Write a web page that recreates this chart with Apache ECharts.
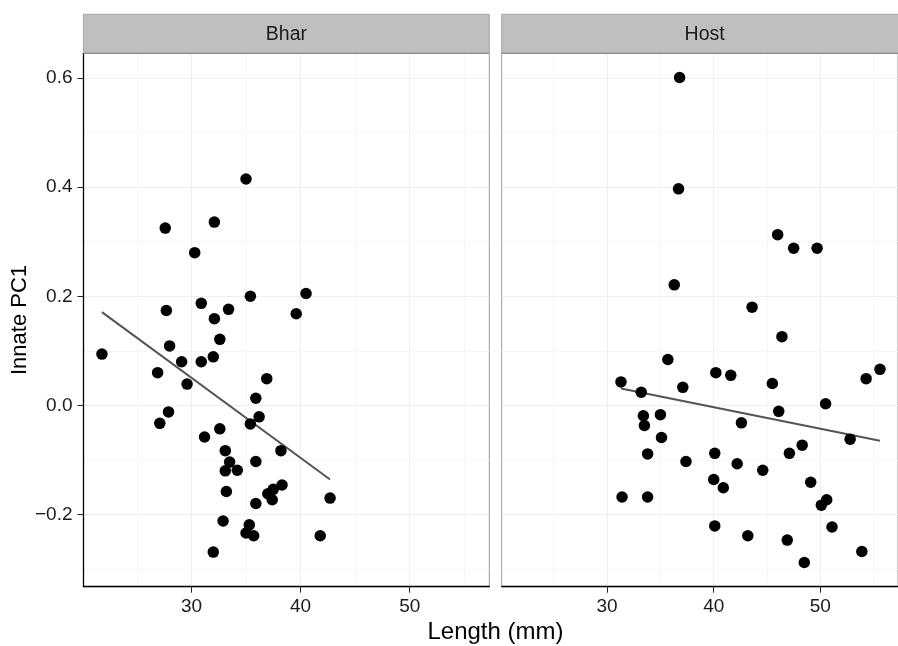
<!DOCTYPE html>
<html>
<head>
<meta charset="utf-8">
<script src="https://cdn.jsdelivr.net/npm/echarts@6/dist/echarts.min.js"></script>
<style>html,body{margin:0;padding:0;background:#fff}#chart{width:898px;height:646px}</style>
</head>
<body>
<div id="chart"></div>
<script>
// Panels
const panels = ['Bhar', 'Host'];

// Bhar: Length (mm), Innate PC1
const bharLength = [21.8,27.6,32.1,30.3,27.7,30.9,35.4,33.4,32.1,39.6,40.5,35.0,28.0,32.6,29.1,30.9,32.0,26.9,29.6,36.9,35.9,27.9,27.1,36.2,35.4,32.6,31.2,33.1,38.2,35.9,33.5,33.1,34.2,33.2,38.3,37.5,37.0,37.4,35.9,32.9,35.3,35.0,35.7,32.0,42.7,41.8];
const bharPC1    = [0.094,0.325,0.336,0.280,0.174,0.187,0.200,0.176,0.159,0.168,0.205,0.415,0.109,0.121,0.080,0.080,0.089,0.060,0.039,0.049,0.013,-0.012,-0.033,-0.021,-0.034,-0.043,-0.058,-0.083,-0.083,-0.103,-0.104,-0.120,-0.119,-0.158,-0.146,-0.154,-0.162,-0.173,-0.180,-0.212,-0.219,-0.234,-0.239,-0.269,-0.170,-0.239];

// Host: Length (mm), Innate PC1
const hostLength = [36.8,36.7,36.3,46.0,47.5,49.7,43.6,35.7,31.3,37.1,33.2,33.4,35.0,33.5,35.1,33.8,37.4,31.4,33.8,46.4,40.2,41.6,45.5,54.3,55.6,50.5,46.1,42.6,52.8,48.3,40.1,47.1,42.2,44.6,40.0,40.9,49.1,50.6,50.1,40.1,51.1,43.2,46.9,53.9,48.5];
const hostPC1    = [0.601,0.397,0.221,0.313,0.288,0.288,0.180,0.084,0.043,0.033,0.024,-0.019,-0.017,-0.037,-0.059,-0.089,-0.103,-0.168,-0.168,0.126,0.060,0.055,0.040,0.049,0.066,0.003,-0.011,-0.032,-0.062,-0.073,-0.088,-0.088,-0.107,-0.119,-0.136,-0.151,-0.141,-0.173,-0.183,-0.221,-0.223,-0.239,-0.247,-0.268,-0.288];

// Fitted lines (endpoints)
const bharFitLength = [21.8, 42.7];
const bharFitPC1    = [0.171, -0.136];
const hostFitLength = [31.3, 55.6];
const hostFitPC1    = [0.031, -0.065];

// Ticks / grid
const xMajor = [30, 40, 50];
const xMinor = [25, 35, 45, 55];
const yMajor = [-0.2, 0, 0.2, 0.4, 0.6];
const yMinor = [-0.3, -0.1, 0.1, 0.3, 0.5];

const zip = (a, b) => a.map((v, i) => [v, b[i]]);
const allX = bharLength.concat(hostLength);
const allY = bharPC1.concat(hostPC1);
const xr = [Math.min(...allX), Math.max(...allX)];
const yr = [Math.min(...allY), Math.max(...allY)];
const xPad = (xr[1] - xr[0]) * 0.05, yPad = (yr[1] - yr[0]) * 0.05;
const xMin = xr[0] - xPad, xMax = xr[1] + xPad;
const yMin = yr[0] - yPad, yMax = yr[1] + yPad;

const FONT = '"Liberation Sans", Arial, Helvetica, sans-serif';
const PANEL_TOP = 53.3, PANEL_H = 533.4, PANEL_W = 405.8;
const lefts = [83.5, 501.7];

const fmtY = v => {
  const s = Math.abs(v) < 1e-9 ? '0.0' : v.toFixed(1);
  return s.replace('-', '\u2212');
};

const gridLines = () => ({
  silent: true, symbol: 'none', animation: false, label: {show: false}, z: 0,
  data: [
    ...xMinor.map(v => ({xAxis: v, lineStyle: {color: '#f7f7f7', width: 1, type: 'solid'}})),
    ...yMinor.map(v => ({yAxis: v, lineStyle: {color: '#f7f7f7', width: 1, type: 'solid'}})),
    ...xMajor.map(v => ({xAxis: v, lineStyle: {color: '#efefef', width: 1, type: 'solid'}})),
    ...yMajor.map(v => ({yAxis: v, lineStyle: {color: '#efefef', width: 1, type: 'solid'}}))
  ]
});

const grids = lefts.map(l => ({
  left: l, top: PANEL_TOP, width: PANEL_W, height: PANEL_H,
  show: true, borderColor: '#9a9a9a', borderWidth: 1, backgroundColor: '#fff'
}));

const xAxes = [0, 1].map(i => ({
  type: 'value', gridIndex: i, min: xMin, max: xMax,
  axisLine: {show: true, onZero: false, lineStyle: {color: '#000', width: 1.3}},
  axisTick: {show: true, length: 6, customValues: xMajor, lineStyle: {color: '#222', width: 1}},
  axisLabel: {show: true, customValues: xMajor, color: '#1a1a1a', fontSize: 19, fontFamily: FONT, margin: 11},
  splitLine: {show: false}
}));

const yAxes = [0, 1].map(i => ({
  type: 'value', gridIndex: i, min: yMin, max: yMax,
  name: i === 0 ? 'Innate PC1' : '', nameLocation: 'middle', nameGap: 51, nameRotate: 90,
  nameTextStyle: {color: '#000', fontSize: 22, fontFamily: FONT},
  axisLine: {show: i === 0, onZero: false, lineStyle: {color: '#000', width: 1.3}},
  axisTick: {show: i === 0, length: 6, customValues: yMajor, lineStyle: {color: '#222', width: 1}},
  axisLabel: {show: i === 0, customValues: yMajor, formatter: fmtY, color: '#1a1a1a', fontSize: 19, fontFamily: FONT, margin: 11},
  splitLine: {show: false}
}));

const series = [];
const pts = [zip(bharLength, bharPC1), zip(hostLength, hostPC1)];
const fits = [zip(bharFitLength, bharFitPC1), zip(hostFitLength, hostFitPC1)];
[0, 1].forEach(i => {
  series.push({
    type: 'line', xAxisIndex: i, yAxisIndex: i, data: [], silent: true,
    markLine: gridLines(), z: 0
  });
  series.push({
    type: 'line', xAxisIndex: i, yAxisIndex: i, data: fits[i], symbol: 'none',
    lineStyle: {color: '#545454', width: 2}, silent: true, animation: false, z: 3
  });
  series.push({
    type: 'scatter', xAxisIndex: i, yAxisIndex: i, data: pts[i], symbolSize: 11.5,
    itemStyle: {color: '#000', opacity: 1}, animation: false, z: 4
  });
});

const graphics = [];
lefts.forEach((l, i) => {
  graphics.push({
    type: 'rect', shape: {x: l, y: 14.3, width: PANEL_W, height: PANEL_TOP - 14.3},
    style: {fill: '#bfbfbf', stroke: '#a6a6a6', lineWidth: 1}, z: 10
  });
  graphics.push({
    type: 'line', shape: {x1: l, y1: PANEL_TOP, x2: l + PANEL_W, y2: PANEL_TOP},
    style: {stroke: '#8c8c8c', lineWidth: 1.2}, z: 11
  });
  graphics.push({
    type: 'text', x: l + PANEL_W / 2, y: 34.5,
    style: {text: panels[i], fill: '#1a1a1a', font: '19.5px ' + FONT, textAlign: 'center', textVerticalAlign: 'middle'}, z: 12
  });
});
graphics.push({
  type: 'text', x: (lefts[0] + lefts[1] + PANEL_W) / 2, y: 632,
  style: {text: 'Length (mm)', fill: '#000', font: '24px ' + FONT, textAlign: 'center', textVerticalAlign: 'middle'}, z: 12
});

const chart = echarts.init(document.getElementById('chart'), null, {renderer: 'canvas'});
chart.setOption({
  animation: false,
  backgroundColor: '#fff',
  grid: grids,
  xAxis: xAxes,
  yAxis: yAxes,
  series: series,
  graphic: graphics
});
</script>
</body>
</html>
